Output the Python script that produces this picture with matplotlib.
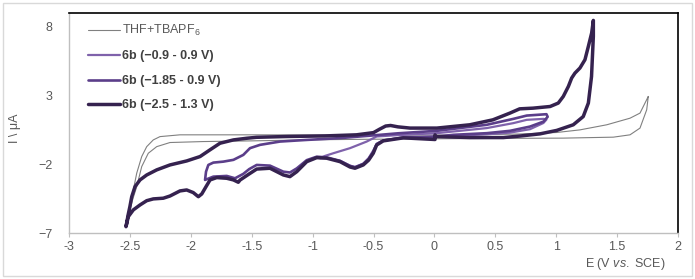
import matplotlib
matplotlib.use("Agg")
import matplotlib.pyplot as plt
from matplotlib.patches import Rectangle

plt.rcParams["font.family"] = ["Liberation Sans", "DejaVu Sans"]
plt.rcParams["mathtext.fontset"] = "custom"
plt.rcParams["mathtext.rm"] = "Liberation Sans"
plt.rcParams["mathtext.it"] = "Liberation Sans:italic"

# blank electrolyte (THF + TBAPF6)
E_blank = [1.756, 1.688, 1.606, 1.415, 1.195, 1.004, 0.7, 0.3, 0.0, -0.5, -1.0, -1.5, -1.76, -2.089,
           -2.253, -2.308, -2.362, -2.403, -2.444, -2.472, -2.5, -2.52,
           -2.5, -2.475, -2.444, -2.403, -2.349, -2.28, -2.171, -1.9, -1.5, -1.0, -0.5, 0.0, 0.5,
           1.058, 1.469, 1.606, 1.688, 1.743, 1.756]
I_blank = [2.93, 1.72, 1.35, 0.87, 0.5, 0.31, 0.2, 0.14, 0.12, 0.12, 0.13, 0.14, 0.14, 0.14,
           0.01, -0.23, -0.72, -1.44, -2.65, -3.87, -5.2, -5.9,
           -5.3, -4.5, -3.63, -2.17, -1.2, -0.72, -0.42, -0.35, -0.3, -0.22, -0.18, -0.15, -0.12,
           -0.1, -0.03, 0.14, 0.63, 1.96, 2.93]

# 6b, -0.9 .. 0.9 V
E_a = [0.0, -0.255, -0.42, -0.474, -0.502, -0.54, -0.584, -0.652, -0.693, -0.775, -0.884, -0.94,
       -0.9, -0.83, -0.693, -0.556, -0.474, -0.3, 0.019, 0.43, 0.648, 0.758, 0.895, 0.92,
       0.895, 0.785, 0.62, 0.43, 0.155, 0.0]
I_a = [0.0, -0.05, -0.26, -0.5, -1.0, -1.55, -1.95, -2.2, -2.1, -1.75, -1.55, -1.56,
       -1.4, -1.2, -0.83, -0.35, 0.02, 0.12, 0.26, 0.63, 0.99, 1.23, 1.3, 1.25,
       1.0, 0.55, 0.3, 0.18, 0.06, 0.0]

# 6b, -1.85 .. 0.9 V
E_b = [0.0, -0.255, -0.42, -0.474, -0.502, -0.54, -0.584, -0.652, -0.693, -0.775, -0.884, -0.966,
       -1.048, -1.13, -1.186, -1.24, -1.35, -1.459, -1.52, -1.569, -1.637, -1.705, -1.815, -1.883,
       -1.875, -1.856, -1.815, -1.733, -1.65, -1.569, -1.514, -1.432, -1.268, -1.048, -0.775, -0.5,
       -0.3, 0.019, 0.43, 0.648, 0.758, 0.92, 0.93, 0.895, 0.785, 0.62, 0.43, 0.155, 0.0]
I_b = [0.0, -0.06, -0.28, -0.55, -1.1, -1.62, -1.98, -2.22, -2.12, -1.75, -1.5, -1.45,
       -1.7, -2.3, -2.6, -2.54, -2.1, -2.05, -2.35, -2.7, -3.02, -2.85, -2.9, -3.14,
       -2.54, -2.05, -1.88, -1.81, -1.68, -1.32, -0.83, -0.59, -0.35, -0.23, -0.1, 0.1,
       0.25, 0.43, 0.87, 1.3, 1.54, 1.64, 1.45, 1.1, 0.74, 0.43, 0.26, 0.14, 0.0]

# 6b, -2.5 .. 1.3 V
E_c = [0.005, 0.005, -0.255, -0.42, -0.474, -0.502, -0.54, -0.584, -0.652, -0.693, -0.775, -0.884,
       -0.966, -1.048, -1.13, -1.186, -1.24, -1.35, -1.459, -1.52, -1.596, -1.61, -1.65, -1.705,
       -1.787, -1.842, -1.875, -1.91, -1.938, -1.98, -2.034, -2.089, -2.171, -2.226, -2.308,
       -2.362, -2.417, -2.472, -2.513, -2.532,
       -2.515, -2.5, -2.485, -2.458, -2.417, -2.362, -2.28, -2.171, -2.034, -1.924, -1.842, -1.76,
       -1.65, -1.541, -1.46, -1.2, -0.9, -0.64, -0.5, -0.45, -0.4, -0.36, -0.3, -0.2, 0.02, 0.29,
       0.48, 0.62, 0.7, 0.81, 0.95, 1.017, 1.058, 1.1, 1.127, 1.154, 1.195, 1.236, 1.264, 1.291,
       1.305,
       1.305, 1.29, 1.264, 1.222, 1.14, 1.004, 0.867, 0.7, 0.566, 0.29, 0.005]
I_c = [0.14, -0.2, -0.08, -0.3, -0.6, -1.2, -1.7, -2.05, -2.29, -2.2, -1.81, -1.56,
       -1.52, -1.81, -2.54, -2.9, -2.78, -2.29, -2.35, -2.7, -3.15, -3.31, -3.14, -3.02,
       -2.97, -3.14, -3.63, -4.16, -4.36, -4.06, -3.87, -3.94, -4.31, -4.47, -4.52,
       -4.65, -4.96, -5.32, -5.81, -6.54,
       -5.7, -5.08, -4.36, -3.63, -3.14, -2.78, -2.41, -2.05, -1.76, -1.44, -0.95, -0.47,
       -0.23, -0.11, -0.04, 0.02, 0.06, 0.14, 0.3, 0.55, 0.78, 0.82, 0.72, 0.63, 0.63, 0.87,
       1.23, 1.72, 2.03, 2.08, 2.2, 2.45, 2.93, 3.66, 4.27, 4.63, 5.0, 5.6, 6.57, 7.54,
       8.46,
       7.3, 4.38, 2.45, 1.47, 0.87, 0.46, 0.21, 0.05, -0.06, -0.06, 0.02]

labels = ["THF+TBAPF$_6$", "6b (\u22120.9 - 0.9 V)", "6b (\u22121.85 - 0.9 V)", "6b (\u22122.5 - 1.3 V)"]
colors = ["#808080", "#7f62ab", "#5b3e8a", "#35224f"]
widths = [0.8, 1.6, 1.9, 2.5]
x_ticks = [-3, -2.5, -2, -1.5, -1, -0.5, 0, 0.5, 1, 1.5, 2]
y_ticks = [-7, -2, 3, 8]

fig = plt.figure(figsize=(6.95, 2.79), dpi=100)
fig.patches.append(Rectangle((3 / 695, 3 / 279), 689 / 695, 273 / 279, transform=fig.transFigure,
                             fill=False, edgecolor="#d9d9d9", lw=1.0))
ax = fig.add_axes([69 / 695, 46 / 279, 609 / 695, 220 / 279])

series = [(E_blank, I_blank), (E_a, I_a), (E_b, I_b), (E_c, I_c)]
for (e, i), lab, c, w in zip(series, labels, colors, widths):
    ax.plot(e, i, color=c, lw=w, label=lab, solid_joinstyle="round", solid_capstyle="round")

ax.set_xlim(-3, 2)
ax.set_ylim(-7, 9)
ax.set_xticks(x_ticks)
ax.set_xticklabels([f"{t:g}" for t in x_ticks])
ax.set_yticks(y_ticks)
ax.tick_params(axis="x", direction="out", length=3, color="#bfbfbf", labelsize=9,
               labelcolor="#595959", pad=3)
ax.tick_params(axis="y", length=0, labelsize=9, labelcolor="#595959", pad=12)
for s in ("top", "right"):
    ax.spines[s].set_color("black")
    ax.spines[s].set_linewidth(1.2)
for s in ("left", "bottom"):
    ax.spines[s].set_color("#bfbfbf")
    ax.spines[s].set_linewidth(1.0)

leg = ax.legend(loc="upper left", bbox_to_anchor=(0.031, 0.955), frameon=False, fontsize=9,
                handlelength=2.6, handletextpad=0.1, labelspacing=1.0, borderpad=0, borderaxespad=0)
for k, t in enumerate(leg.get_texts()):
    if k == 0:
        t.set_color("#595959")
    else:
        t.set_color("#404040")
        t.set_fontweight("bold")

fig.text(665 / 695, 1 - 264 / 279, "E (V $\\mathit{vs.}$ SCE)", ha="right", va="center",
         fontsize=9, color="#595959")
fig.text(15 / 695, 1 - 128 / 279, "I \\ \u03bcA", ha="center", va="center", rotation=90,
         fontsize=9, color="#595959")

fig.savefig("out.png", dpi=100)
